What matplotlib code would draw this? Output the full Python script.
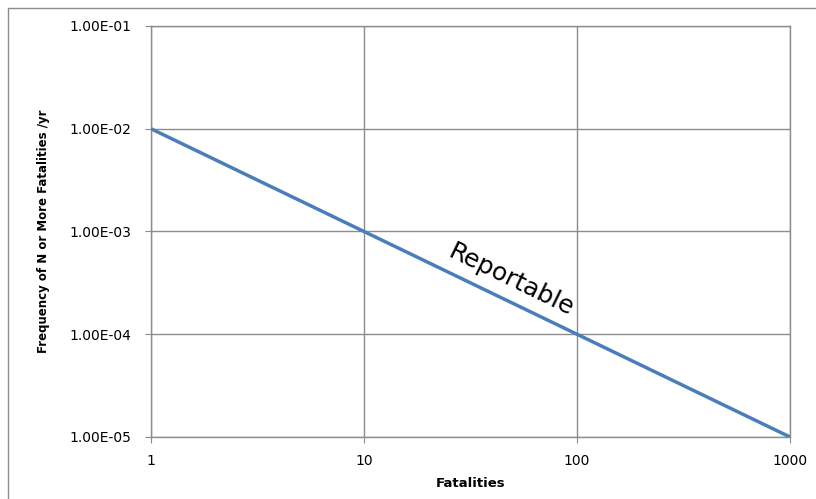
import matplotlib
matplotlib.use("Agg")
import matplotlib.pyplot as plt
from matplotlib.ticker import FuncFormatter, FixedLocator, NullLocator
from matplotlib.patches import Rectangle

fatalities = [1, 10, 100, 1000]
frequency = [1e-2, 1e-3, 1e-4, 1e-5]
y_ticks = [1e-5, 1e-4, 1e-3, 1e-2, 1e-1]
x_ticks = [1, 10, 100, 1000]

fig = plt.figure(figsize=(8.16, 4.99), dpi=100)
ax = fig.add_axes([151/816, 1 - 437/499, (790 - 151)/816, (437 - 26)/499])

ax.plot(fatalities, frequency, color="#4A7EBB", lw=2.5, solid_capstyle="butt", zorder=3)
ax.set_xscale("log")
ax.set_yscale("log")
ax.set_xlim(1, 1000)
ax.set_ylim(1e-5, 1e-1)

ax.xaxis.set_major_locator(FixedLocator(x_ticks))
ax.yaxis.set_major_locator(FixedLocator(y_ticks))
ax.xaxis.set_minor_locator(NullLocator())
ax.yaxis.set_minor_locator(NullLocator())
ax.xaxis.set_major_formatter(FuncFormatter(lambda v, p: f"{v:g}"))
ax.yaxis.set_major_formatter(FuncFormatter(lambda v, p: f"{v:.2E}"))

ax.grid(True, color="#8c8c8c", lw=1)
for s in ax.spines.values():
    s.set_color("#8c8c8c")
    s.set_linewidth(1)
ax.tick_params(axis="both", colors="#8c8c8c", labelcolor="black", labelsize=10, length=4)
ax.tick_params(axis="y", pad=10)
ax.tick_params(axis="x", pad=8)

ax.set_xlabel("Fatalities", fontsize=9.5, fontweight="bold", labelpad=7)
ax.set_ylabel("Frequency of N or More Fatalities /yr", fontsize=8.5, fontweight="bold", labelpad=14)

ax.text(49, 3.4e-4, "Reportable", fontsize=18, rotation=-26,
        ha="center", va="center", rotation_mode="anchor", zorder=4)

fig.patches.append(Rectangle((8/816, -0.1), 1.2, 1 - 8/499 + 0.1, transform=fig.transFigure,
                             fill=False, edgecolor="#8c8c8c", lw=1))

fig.savefig("out.png", dpi=100)
